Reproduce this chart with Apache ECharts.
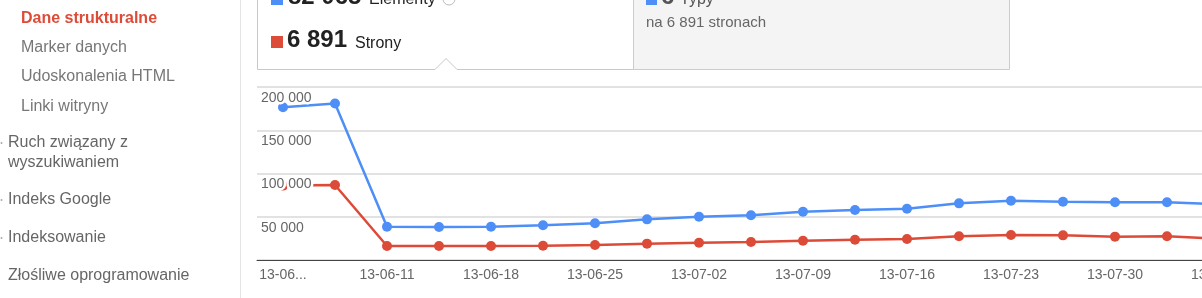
<!DOCTYPE html>
<html>
<head>
<meta charset="utf-8">
<script src="https://cdn.jsdelivr.net/npm/echarts@6/dist/echarts.min.js"></script>
<style>
  html, body { margin: 0; padding: 0; background: #fff; width: 1202px; height: 298px; overflow: hidden; }
  #chart { width: 1260px; height: 298px; }
</style>
</head>
<body>
<div id="chart"></div>
<script>
// ---- data ----
const categories = ['13-06-04','13-06-07','13-06-11','13-06-14','13-06-18','13-06-21','13-06-25','13-06-28','13-07-02','13-07-05','13-07-09','13-07-12','13-07-16','13-07-19','13-07-23','13-07-26','13-07-30','13-08-02','13-08-06'];
const elementy = [176500,181000,38500,38200,38500,40200,42400,47000,50100,51700,55800,57800,59300,65500,68600,67400,66700,66700,64500];
const strony   = [86000,86700,16200,16200,16200,16500,17300,18900,20000,20800,22300,23500,24300,27400,28900,28500,27000,27400,24500];
const yTicks = { min: 0, max: 200000, interval: 50000 };
const sidebarSub = ['Dane strukturalne','Marker danych','Udoskonalenia HTML','Linki witryny'];
const sidebarMain = [['Ruch związany z','wyszukiwaniem'],['Indeks Google'],['Indeksowanie'],['Złośliwe oprogramowanie']];
const summary = { elementy: '82 065', elementyLabel: 'Elementy', strony: '6 891', stronyLabel: 'Strony', typy: '6', typyLabel: 'Typy', typyNote: 'na 6 891 stronach' };

const BLUE = '#4d8ef7', RED = '#dc4a38';
const FONT = '"Liberation Sans", Arial, sans-serif';
const fmt = v => String(v).replace(/\B(?=(\d{3})+(?!\d))/g, ' ');

// ---- graphics: sidebar + header ----
const g = [];
g.push({ type: 'line', shape: { x1: 240.5, y1: 0, x2: 240.5, y2: 298 }, style: { stroke: '#e5e5e5', lineWidth: 1 }, silent: true });
const subY = [18.5, 47.5, 77, 106.5];
sidebarSub.forEach((t, i) => {
  g.push({ type: 'text', x: 21, y: subY[i], style: { text: t, font: (i === 0 ? 'bold ' : '') + '16px ' + FONT, fill: i === 0 ? '#dd4b39' : '#777', verticalAlign: 'middle' }, silent: true });
});
const mainY = [[143, 163], [200], [238], [276]];
sidebarMain.forEach((lines, i) => {
  lines.forEach((t, j) => {
    g.push({ type: 'text', x: 8, y: mainY[i][j], style: { text: t, font: '16px ' + FONT, fill: '#666', verticalAlign: 'middle' }, silent: true });
  });
  if (i < 3) g.push({ type: 'circle', shape: { cx: 1.5, cy: mainY[i][0], r: 1 }, style: { fill: '#aaa' }, silent: true });
});
// gray box on the right of the header
g.push({ type: 'rect', shape: { x: 633.5, y: -2, width: 376, height: 71.5 }, style: { fill: '#f4f4f4', stroke: '#cccccc', lineWidth: 1 }, silent: true });
// white box with notch
g.push({ type: 'polyline', shape: { points: [[257.5, -2], [257.5, 69.5], [435, 69.5], [446, 58.5], [457, 69.5], [633.5, 69.5]] }, style: { stroke: '#c8c8c8', fill: null, lineWidth: 1 }, silent: true });
// header row 1 (cut off at the top)
g.push({ type: 'rect', shape: { x: 271, y: -7, width: 12, height: 12 }, style: { fill: BLUE }, silent: true });
g.push({ type: 'text', x: 288, y: -3, style: { text: summary.elementy, font: 'bold 24px ' + FONT, fill: '#222', verticalAlign: 'middle' }, silent: true });
g.push({ type: 'text', x: 369, y: -0.5, style: { text: summary.elementyLabel, font: '16px ' + FONT, fill: '#222', verticalAlign: 'middle' }, silent: true });
g.push({ type: 'circle', shape: { cx: 449, cy: -1, r: 6 }, style: { fill: null, stroke: '#bbb', lineWidth: 1 }, silent: true });
// header row 2
g.push({ type: 'rect', shape: { x: 271, y: 36, width: 12, height: 12 }, style: { fill: '#dd4b39' }, silent: true });
g.push({ type: 'text', x: 287, y: 40.5, style: { text: summary.strony, font: 'bold 24px ' + FONT, fill: '#222', verticalAlign: 'middle' }, silent: true });
g.push({ type: 'text', x: 355, y: 43.5, style: { text: summary.stronyLabel, font: '16px ' + FONT, fill: '#222', verticalAlign: 'middle' }, silent: true });
// right box content
g.push({ type: 'rect', shape: { x: 646, y: -7, width: 11, height: 12 }, style: { fill: BLUE }, silent: true });
g.push({ type: 'text', x: 661, y: -3, style: { text: summary.typy, font: 'bold 24px ' + FONT, fill: '#555', verticalAlign: 'middle' }, silent: true });
g.push({ type: 'text', x: 680, y: -0.5, style: { text: summary.typyLabel, font: '16px ' + FONT, fill: '#555', verticalAlign: 'middle' }, silent: true });
g.push({ type: 'text', x: 646, y: 22.5, style: { text: summary.typyNote, font: '15px ' + FONT, fill: '#666', verticalAlign: 'middle' }, silent: true });

const chart = echarts.init(document.getElementById('chart'), null, { renderer: 'canvas' });
chart.setOption({
  animation: false,
  backgroundColor: '#fff',
  graphic: { elements: g },
  grid: { left: 257, top: 87, width: categories.length * 52, height: 173 },
  xAxis: {
    type: 'category', data: categories, boundaryGap: true,
    axisLine: { lineStyle: { color: '#444', width: 1 } },
    axisTick: { show: false },
    axisLabel: { interval: 1, margin: 8, color: '#666', fontSize: 14, fontFamily: FONT,
      formatter: (v, i) => i === 0 ? v.slice(0, 5) + '...' : v },
    splitLine: { show: false }
  },
  yAxis: [
    { type: 'value', min: yTicks.min, max: yTicks.max, interval: yTicks.interval,
      axisLine: { show: false }, axisTick: { show: false }, axisLabel: { show: false },
      splitLine: { lineStyle: { color: '#e2e2e2', width: 2 } } },
    { type: 'value', min: yTicks.min, max: yTicks.max, interval: yTicks.interval, position: 'left', z: 10,
      axisLine: { show: false }, axisTick: { show: false }, splitLine: { show: false },
      axisLabel: { inside: true, margin: 4, showMinLabel: false, color: '#666', fontSize: 14, fontFamily: FONT,
        verticalAlign: 'top', padding: [4, 0, 0, 0], textBorderColor: '#fff', textBorderWidth: 5,
        formatter: v => fmt(v) } }
  ],
  series: [
    { name: 'Elementy', type: 'line', data: elementy, yAxisIndex: 0, color: BLUE,
      symbol: 'circle', symbolSize: 10, lineStyle: { width: 2.5, color: BLUE }, itemStyle: { color: BLUE } },
    { name: 'Strony', type: 'line', data: strony, yAxisIndex: 0, color: RED,
      symbol: 'circle', symbolSize: 10, lineStyle: { width: 2.5, color: RED }, itemStyle: { color: RED } }
  ]
});
</script>
</body>
</html>
